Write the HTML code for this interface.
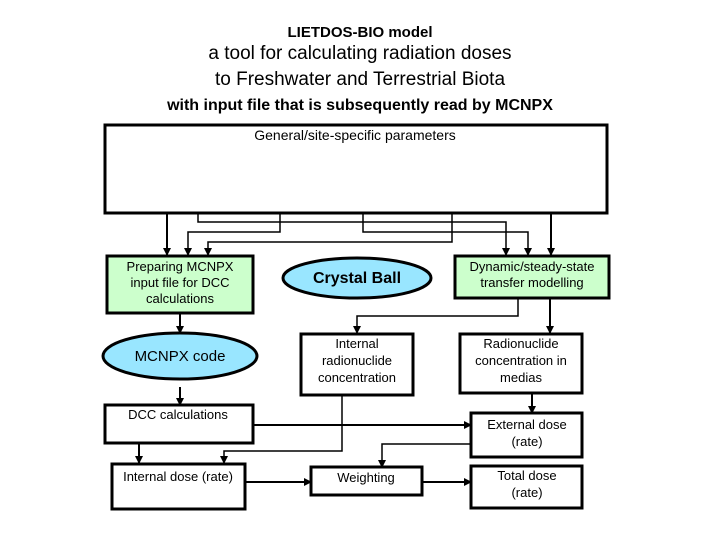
<!DOCTYPE html>
<html><head><style>
body{margin:0;background:#fff;}
svg text{font-family:"Liberation Sans",Arial,sans-serif;}
</style></head><body>
<svg width="720" height="540" viewBox="0 0 720 540" xmlns="http://www.w3.org/2000/svg">
<defs><marker id="a" markerWidth="8" markerHeight="8" refX="7" refY="4" orient="auto" markerUnits="userSpaceOnUse"><path d="M0,0 L8,4 L0,8 z" fill="#000"/></marker></defs>
<g text-anchor="middle" fill="#000">
<text x="360" y="37" font-size="15" font-weight="bold">LIETDOS-BIO model</text>
<text x="360" y="59" font-size="19">a tool for calculating radiation doses</text>
<text x="360" y="85" font-size="19">to Freshwater and Terrestrial Biota</text>
<text x="360" y="110" font-size="16" font-weight="bold">with input file that is subsequently read by MCNPX</text>
</g>
<rect x="105" y="125" width="502" height="88" fill="#fff" stroke="#000" stroke-width="3"/>
<text x="355" y="140" font-size="14" text-anchor="middle">General/site-specific parameters</text>
<g stroke="#000" stroke-width="1.5" fill="none" marker-end="url(#a)">
<path d="M167,213 V255" stroke-width="2"/>
<path d="M280,213 V232 H188 V255"/>
<path d="M452,213 V242 H208 V255"/>
<path d="M198,213 V222 H506 V255"/>
<path d="M363,213 V232 H528 V255"/>
<path d="M551,213 V255" stroke-width="2"/>
<path d="M180,313 V333" stroke-width="2"/>
<path d="M518,298 V316 H357 V333"/>
<path d="M550,298 V333" stroke-width="2"/>
<path d="M180,387 V405" stroke-width="2"/>
<path d="M532,393 V413" stroke-width="2"/>
<path d="M253,425 H471" stroke-width="2"/>
<path d="M139,443 V463" stroke-width="2"/>
<path d="M342,395 V451 H224 V463"/>
<path d="M471,444 H382 V467"/>
<path d="M245,482 H311" stroke-width="2"/>
<path d="M422,482 H471" stroke-width="2"/>
</g>
<g stroke="#000" stroke-width="3">
<rect x="107" y="256" width="146" height="57" fill="#ccffcc"/>
<ellipse cx="357" cy="278" rx="74" ry="20" fill="#99e6ff"/>
<rect x="455" y="256" width="154" height="42" fill="#ccffcc"/>
<ellipse cx="180" cy="356" rx="77" ry="23" fill="#99e6ff"/>
<rect x="301" y="334" width="112" height="61" fill="#fff"/>
<rect x="460" y="334" width="122" height="59" fill="#fff"/>
<rect x="105" y="405" width="148" height="38" fill="#fff"/>
<rect x="471" y="413" width="111" height="44" fill="#fff"/>
<rect x="112" y="464" width="133" height="45" fill="#fff"/>
<rect x="311" y="467" width="111" height="28" fill="#fff"/>
<rect x="471" y="466" width="111" height="42" fill="#fff"/>
</g>
<g font-size="13" text-anchor="middle" fill="#000">
<text x="180" y="271">Preparing MCNPX</text>
<text x="180" y="287">input file for DCC</text>
<text x="180" y="303">calculations</text>
<text x="357" y="283" font-size="16" font-weight="bold">Crystal Ball</text>
<text x="532" y="271">Dynamic/steady-state</text>
<text x="532" y="287">transfer modelling</text>
<text x="180" y="361" font-size="15">MCNPX code</text>
<text x="357" y="348">Internal</text>
<text x="357" y="365">radionuclide</text>
<text x="357" y="382">concentration</text>
<text x="521" y="348">Radionuclide</text>
<text x="521" y="365">concentration in</text>
<text x="521" y="382">medias</text>
<text x="178" y="419">DCC calculations</text>
<text x="527" y="429">External dose</text>
<text x="527" y="446">(rate)</text>
<text x="178" y="481">Internal dose (rate)</text>
<text x="366" y="482">Weighting</text>
<text x="527" y="480">Total dose</text>
<text x="527" y="497">(rate)</text>
</g>
</svg>
</body></html>
